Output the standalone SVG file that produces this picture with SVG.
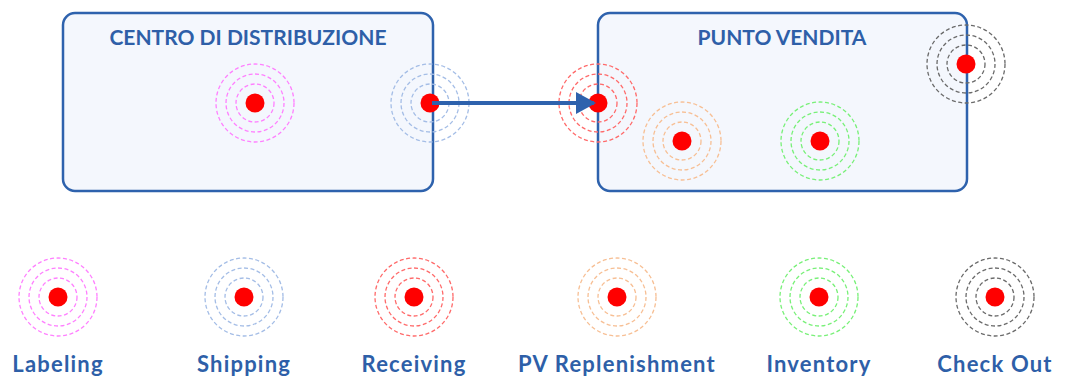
<svg xmlns="http://www.w3.org/2000/svg" width="1065" height="376" viewBox="0 0 1065 376">
  <defs>
    <style>
      .box { fill: #f4f7fd; stroke: #2e62ad; stroke-width: 2.5; }
      .title { font-family: "Lato", "DejaVu Sans", sans-serif; font-weight: bold; font-size: 21px; fill: #2e5fa8; text-anchor: middle; }
      .label { font-family: "Lato", "DejaVu Sans", sans-serif; font-weight: bold; font-size: 22px; letter-spacing: 1.2px; fill: #2e5fa8; text-anchor: middle; }
      .ring { fill: none; stroke-width: 1.3; stroke-dasharray: 4 2.5; }
      .dot { fill: #ff0000; }
      .labeling { stroke: #ff80ff; }
      .shipping { stroke: #a4bde6; }
      .receiving { stroke: #ff6a6a; }
      .replenish { stroke: #f7bf94; }
      .inventory { stroke: #78f078; }
      .checkout { stroke: #6a6a6a; }
      .conn { stroke: #2e62ad; stroke-width: 4; fill: none; }
    </style>
    <!-- reader antenna: three dashed rings around a red tag dot -->
    <g id="rings">
      <circle class="ring" r="19"/>
      <circle class="ring" r="29"/>
      <circle class="ring" r="39"/>
    </g>
    <marker id="arrow" viewBox="0 0 10 10" refX="9" refY="5" markerWidth="5" markerHeight="5.5" orient="auto" markerUnits="strokeWidth" preserveAspectRatio="none">
      <path d="M0,0 L10,5 L0,10 z" fill="#2e62ad"/>
    </marker>
  </defs>

  <rect width="1065" height="376" fill="#ffffff"/>

  <!-- distribution centre -->
  <g id="centro">
    <rect class="box" x="63" y="13" width="370" height="178" rx="12"/>
    <text class="title" x="248" y="45">CENTRO DI DISTRIBUZIONE</text>
  </g>

  <!-- point of sale -->
  <g id="punto-vendita">
    <rect class="box" x="598" y="13" width="369" height="178" rx="12"/>
    <text class="title" x="782" y="45">PUNTO VENDITA</text>
  </g>

  <!-- read points inside the boxes -->
  <g id="rp-labeling" transform="translate(255,103)">
    <use href="#rings" class="labeling"/><circle class="dot" r="9.5"/>
  </g>
  <g id="rp-shipping" transform="translate(430,103)">
    <use href="#rings" class="shipping"/><circle class="dot" r="9.5"/>
  </g>
  <g id="rp-receiving" transform="translate(598,103)">
    <use href="#rings" class="receiving"/><circle class="dot" r="9.5"/>
  </g>
  <g id="rp-replenishment" transform="translate(682,141)">
    <use href="#rings" class="replenish"/><circle class="dot" r="9.5"/>
  </g>
  <g id="rp-inventory" transform="translate(820,141)">
    <use href="#rings" class="inventory"/><circle class="dot" r="9.5"/>
  </g>
  <g id="rp-checkout" transform="translate(966,64)">
    <use href="#rings" class="checkout"/><circle class="dot" r="9.5"/>
  </g>

  <!-- shipment flow -->
  <g id="connectors">
    <line class="conn" x1="432" y1="103" x2="594" y2="103" marker-end="url(#arrow)"/>
  </g>

  <!-- legend -->
  <g id="legend-labeling" transform="translate(58,297)">
    <use href="#rings" class="labeling"/><circle class="dot" r="9.5"/>
    <text class="label" x="0" y="75">Labeling</text>
  </g>
  <g id="legend-shipping" transform="translate(244,297)">
    <use href="#rings" class="shipping"/><circle class="dot" r="9.5"/>
    <text class="label" x="0" y="75">Shipping</text>
  </g>
  <g id="legend-receiving" transform="translate(414,297)">
    <use href="#rings" class="receiving"/><circle class="dot" r="9.5"/>
    <text class="label" x="0" y="75">Receiving</text>
  </g>
  <g id="legend-replenishment" transform="translate(617,297)">
    <use href="#rings" class="replenish"/><circle class="dot" r="9.5"/>
    <text class="label" x="0" y="75">PV Replenishment</text>
  </g>
  <g id="legend-inventory" transform="translate(819,297)">
    <use href="#rings" class="inventory"/><circle class="dot" r="9.5"/>
    <text class="label" x="0" y="75">Inventory</text>
  </g>
  <g id="legend-checkout" transform="translate(995,297)">
    <use href="#rings" class="checkout"/><circle class="dot" r="9.5"/>
    <text class="label" x="0" y="75">Check Out</text>
  </g>
</svg>
